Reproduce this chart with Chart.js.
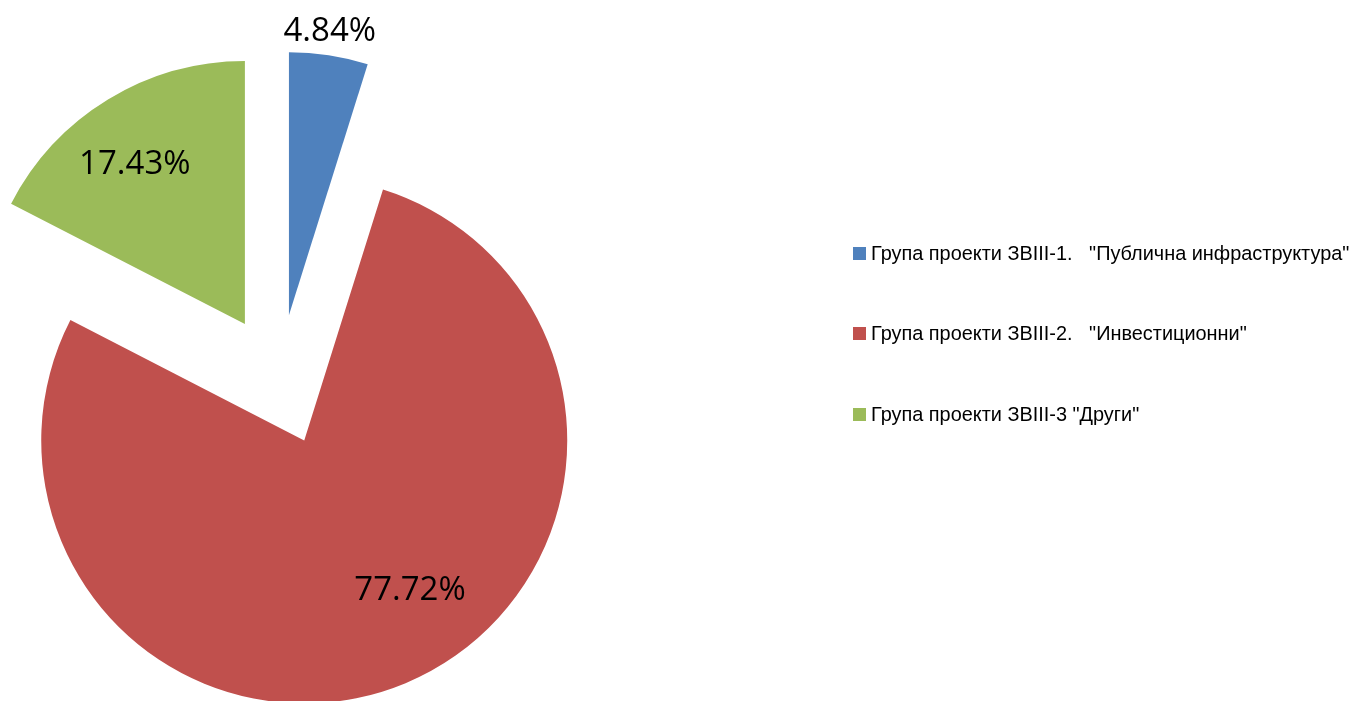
<!DOCTYPE html>
<html>
<head>
<meta charset="utf-8">
<script src="https://cdn.jsdelivr.net/npm/chart.js@4/dist/chart.umd.min.js"></script>
<style>
  html, body { margin: 0; padding: 0; background: #ffffff; }
  #wrap { position: relative; width: 1352px; height: 701px; overflow: hidden; }
  #c { position: absolute; left: 0; top: 0; }
  #legend { position: absolute; left: 853px; top: 0; font-family: "Liberation Sans", Arial, sans-serif; font-size: 19.9px; color: #000; }
  .item { position: absolute; left: 0; white-space: pre; display: flex; align-items: center; }
  .box { width: 13px; height: 13px; margin-right: 5px; flex: none; }
</style>
</head>
<body>
<div id="wrap">
  <canvas id="c" width="1352" height="701"></canvas>
  <div id="legend"></div>
</div>
<script>
const categories = [
  'Група проекти ЗВІІІ-1.   "Публична инфраструктура"',
  'Група проекти ЗВІІІ-2.   "Инвестиционни"',
  'Група проекти ЗВІІІ-3 "Други"'
];
const shares = [4.84, 77.72, 17.43];
const shareLabels = ['4.84%', '77.72%', '17.43%'];
const colors = ['#4F81BD', '#C0504D', '#9BBB59'];

// presentation settings
const EXPLODE = 65.5; // px each slice is pulled out along its bisector
const labelPlace = [
  { f: 1.10, d: -0.6 },
  { f: 0.69, d: -13 },
  { f: 0.745, d: -2.8 }
];
const LABEL_DY = 2.5;
const legendCenters = [253, 333, 414];

// draw each library arc element translated along its bisector (exploded pie, full radius)
const explodePlugin = {
  id: 'explodeSlices',
  beforeDatasetDraw(chart, args) {
    const ctx = chart.ctx;
    args.meta.data.forEach(arc => {
      const mid = (arc.startAngle + arc.endAngle) / 2;
      ctx.save();
      ctx.translate(Math.cos(mid) * EXPLODE, Math.sin(mid) * EXPLODE);
      arc.draw(ctx);
      ctx.restore();
    });
    return false;
  }
};

const labelPlugin = {
  id: 'sliceLabels',
  afterDatasetsDraw(chart) {
    const ctx = chart.ctx;
    const meta = chart.getDatasetMeta(0);
    ctx.save();
    ctx.font = '33px "Open Sans", "Liberation Sans", sans-serif';
    ctx.fillStyle = '#000';
    ctx.textAlign = 'center';
    ctx.textBaseline = 'middle';
    meta.data.forEach((arc, i) => {
      const mid = (arc.startAngle + arc.endAngle) / 2;
      const ax = arc.x + Math.cos(mid) * EXPLODE;
      const ay = arc.y + Math.sin(mid) * EXPLODE;
      const a = mid + labelPlace[i].d * Math.PI / 180;
      const r = arc.outerRadius * labelPlace[i].f;
      ctx.fillText(shareLabels[i], ax + Math.cos(a) * r, ay + Math.sin(a) * r + LABEL_DY);
    });
    ctx.restore();
  }
};

new Chart(document.getElementById('c'), {
  type: 'pie',
  data: {
    labels: categories,
    datasets: [{
      data: shares,
      backgroundColor: colors,
      borderWidth: 0,
      offset: 0,
      hoverOffset: 0,
      clip: false
    }]
  },
  options: {
    responsive: false,
    animation: false,
    events: [],
    radius: 263,
    layout: { padding: { left: 0, right: 794, top: 59, bottom: 0 } },
    plugins: { legend: { display: false }, tooltip: { enabled: false } }
  },
  plugins: [explodePlugin, labelPlugin]
});

const lg = document.getElementById('legend');
categories.forEach((name, i) => {
  const it = document.createElement('div');
  it.className = 'item';
  it.style.top = (legendCenters[i] - 12) + 'px';
  it.style.height = '24px';
  const b = document.createElement('span');
  b.className = 'box';
  b.style.background = colors[i];
  const t = document.createElement('span');
  t.textContent = name;
  it.appendChild(b);
  it.appendChild(t);
  lg.appendChild(it);
});
</script>
</body>
</html>
